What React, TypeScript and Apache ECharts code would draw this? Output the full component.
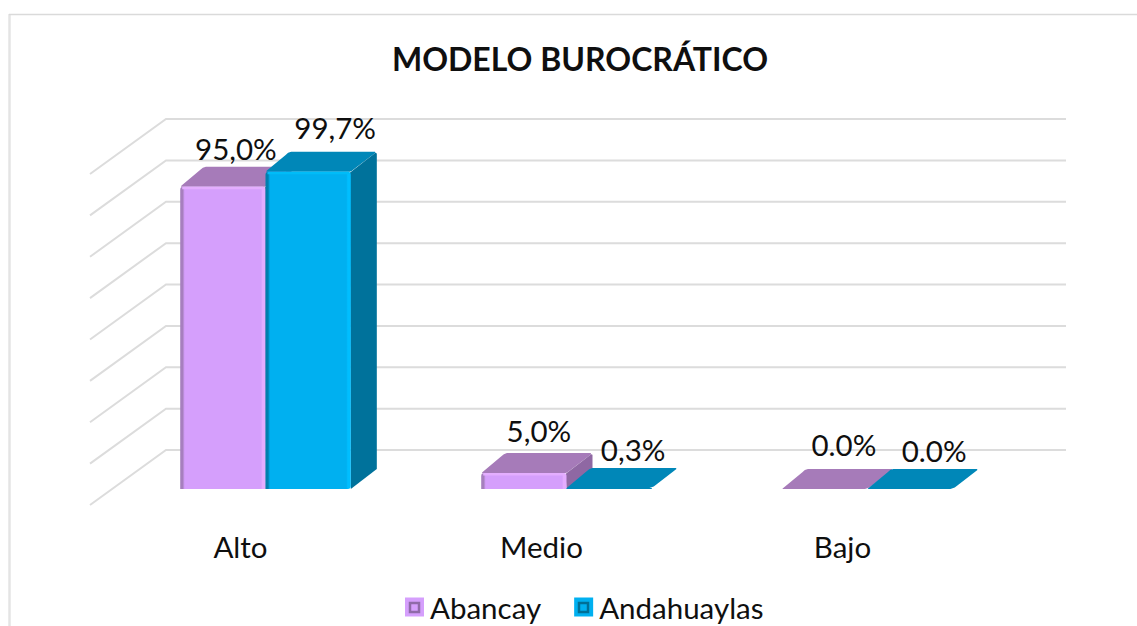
import React, { useEffect, useRef } from "react";
import * as echarts from "echarts";

const categories = ["Alto", "Medio", "Bajo"];
const seriesNames = ["Abancay", "Andahuaylas"];
const abancay = [95.0, 5.0, 0.0];
const andahuaylas = [99.7, 0.3, 0.0];
const abancayLabels = ["95,0%", "5,0%", "0.0%"];
const andahuaylasLabels = ["99,7%", "0,3%", "0.0%"];
const gridValues = [0, 13, 26, 39, 52, 65, 78, 91, 104];

const FONT = "Lato, Carlito, Calibri, sans-serif";
const TEXT = "#0F0F0F";
const LABEL_SIZE = 29.5;
const DEPTH_X = 26;
const DEPTH_Y = -20;
const BAR_RATIO = 85.3 / 301;
const FLOOR_SHIFT_X = 25;

const palettes = [
  { front: "#D59FFC", top: "#A67BB9", topEdge: "#9870AB", side: "#8F68A3", left: "#A67FBE", right: "#E4ADFF", rim: "#E4AEFF" },
  { front: "#00B0F0", top: "#0087B8", topEdge: "#007CA8", side: "#00729B", left: "#007FAE", right: "#00BEFF", rim: "#00BCF8" },
];
const labelNudges = [
  [[13, -38], [15, -43], [19, -45]],
  [[27, -44], [24, -39], [24, -39]],
];

// Corner-softened polygon: each corner with a radius gets a short chamfer.
function soft(points: number[][], radii: number[]) {
  const out: number[][] = [];
  const n = points.length;
  points.forEach((p, i) => {
    const r = radii[i] || 0;
    if (!r) {
      out.push(p);
      return;
    }
    const a = points[(i + n - 1) % n];
    const b = points[(i + 1) % n];
    const toward = (q: number[], d: number) => {
      const dx = q[0] - p[0];
      const dy = q[1] - p[1];
      const len = Math.hypot(dx, dy) || 1;
      const t = Math.min(d, len / 2);
      return [p[0] + (dx / len) * t, p[1] + (dy / len) * t];
    };
    out.push(toward(a, r), toward(a, r * 0.35), toward(b, r * 0.35), toward(b, r));
  });
  return out;
}

function barSeries(idx: number, name: string, values: number[], labels: string[]) {
  const pal = palettes[idx];
  return {
    type: "custom",
    name,
    z: 3 + idx,
    itemStyle: { color: pal.front },
    data: values.map((v, i) => [i, v, labels[i]]),
    encode: { x: 0, y: 1 },
    renderItem: (params: any, api: any) => {
      const i = api.value(0);
      const base = api.coord([i, 0]);
      const topPt = api.coord([i, api.value(1)]);
      const band = api.size([1, 0])[0];
      const w = band * BAR_RATIO;
      const x0 = base[0] + FLOOR_SHIFT_X + (idx === 0 ? -w : 0);
      const x1 = x0 + w;
      const y0 = base[1];
      const y1 = topPt[1];
      const h = y0 - y1;
      const n = labelNudges[idx][i];
      const cx = (x0 + x1) / 2;
      const children: any[] = [];
      const solid = h > 3;
      // top face
      children.push({
        type: "polygon",
        shape: {
          points: soft(
            [
              [x0, y1],
              [x0 + DEPTH_X - 2, y1 + DEPTH_Y],
              [x1 + DEPTH_X, y1 + DEPTH_Y],
              [x1, y1],
            ],
            [solid ? 3 : 1, 5, 5, solid ? 3 : 7]
          ),
        },
        style: { fill: pal.top },
      });
      if (solid) {
        // side face
        children.push({
          type: "polygon",
          shape: {
            points: soft(
              [
                [x1 - 1, y1 + 1],
                [x1 + DEPTH_X, y1 + DEPTH_Y],
                [x1 + DEPTH_X, y0 + DEPTH_Y],
                [x1, y0],
              ],
              [0, 5, 0, 0]
            ),
          },
          style: { fill: pal.side },
        });
        // front face with bevel edges
        const gradient = new echarts.graphic.LinearGradient(0, 0, 1, 0, [
          { offset: 0, color: pal.left },
          { offset: 2.5 / w, color: pal.left },
          { offset: 4.5 / w, color: pal.front },
          { offset: 1 - 4.5 / w, color: pal.front },
          { offset: 1 - 3 / w, color: pal.right },
          { offset: 1, color: pal.right },
        ]);
        children.push({
          type: "rect",
          shape: { x: x0, y: y1, width: w, height: h, r: [3, 3, idx === 1 ? 3 : 0, 0] },
          style: { fill: gradient },
        });
        children.push({
          type: "rect",
          shape: { x: x0 + 2, y: y1, width: w - 4, height: Math.min(2.5, h) },
          style: { fill: pal.rim },
        });
      } else if (h > 0.01) {
        children.push({ type: "rect", shape: { x: x0, y: y1, width: w, height: h }, style: { fill: pal.top } });
      }
      children.push({
        type: "text",
        x: cx + n[0],
        y: y1 + n[1],
        style: {
          text: api.value(2),
          font: `${LABEL_SIZE}px ${FONT}`,
          fill: TEXT,
          align: "center",
          verticalAlign: "middle",
        },
      });
      return { type: "group", children };
    },
  };
}

const gridSeries = {
  type: "custom",
  silent: true,
  z: 1,
  data: gridValues.map((v) => [0, v]),
  encode: { y: 1 },
  renderItem: (params: any, api: any) => {
    const cs = params.coordSys;
    const y = api.coord([0, api.value(1)])[1] + 16;
    return {
      type: "polyline",
      shape: {
        points: [
          [cs.x, y],
          [cs.x + 76, y - 55],
          [cs.x + cs.width + 73, y - 55],
        ],
      },
      style: { stroke: "#DCDCDC", lineWidth: 2, fill: "none" },
    };
  },
};

function legendInset(x: number, stroke: string, fill: string) {
  return {
    type: "rect",
    z: 100,
    shape: { x: x + 5, y: 603, width: 9, height: 9 },
    style: { fill, stroke, lineWidth: 2.5 },
  };
}

export default function App() {
  const ref = useRef<HTMLDivElement>(null);
  useEffect(() => {
    const chart = echarts.init(ref.current!, null, { renderer: "svg" });
    chart.setOption({
      animation: false,
      backgroundColor: "#FFFFFF",
      title: {
        text: "MODELO BUROCRÁTICO",
        left: 580,
        top: 42,
        padding: 0,
        textAlign: "center",
        textStyle: { fontFamily: FONT, fontWeight: "bold", fontSize: 32, color: TEXT },
      },
      grid: { left: 90, width: 903, top: 158, height: 331 },
      xAxis: {
        type: "category",
        data: categories,
        axisLine: { show: false },
        axisTick: { show: false },
        axisLabel: { fontFamily: FONT, fontSize: LABEL_SIZE, color: TEXT, margin: 42 },
      },
      yAxis: { type: "value", min: 0, max: 104, show: false },
      legend: {
        data: seriesNames,
        left: 405,
        top: 592,
        padding: 0,
        itemWidth: 19,
        itemHeight: 19,
        itemGap: 33,
        icon: "rect",
        textStyle: { fontFamily: FONT, fontSize: LABEL_SIZE, color: TEXT, padding: [0, 0, 3, 1] },
      },
      graphic: [
        { type: "line", z: -1, shape: { x1: 9.5, y1: 14, x2: 9.5, y2: 626 }, style: { stroke: "#E4E4E4", lineWidth: 2.5 } },
        { type: "line", z: -1, shape: { x1: 9, y1: 14.5, x2: 1137, y2: 14.5 }, style: { stroke: "#DADADA", lineWidth: 1.5 } },
        legendInset(405, "#8F6BA8", "#D59FFC"),
        legendInset(574, "#006F96", "#00B0F0"),
      ],
      series: [
        gridSeries,
        barSeries(0, seriesNames[0], abancay, abancayLabels),
        barSeries(1, seriesNames[1], andahuaylas, andahuaylasLabels),
      ],
    });
    return () => chart.dispose();
  }, []);
  return <div ref={ref} style={{ position: "fixed", left: 0, top: 0, width: 1137, height: 626 }} />;
}
